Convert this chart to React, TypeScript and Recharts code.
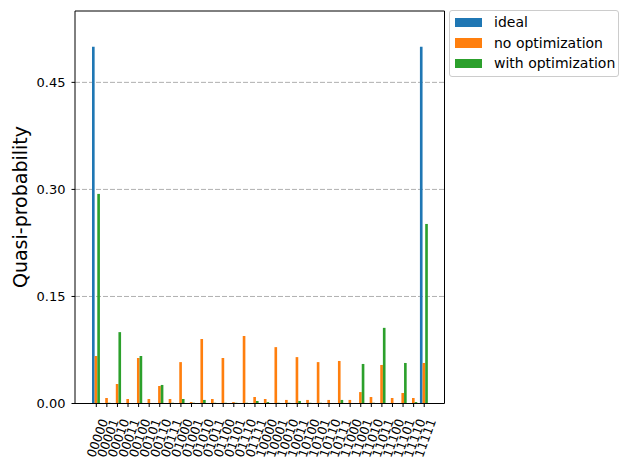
import React from "react";
import {
  BarChart,
  Bar,
  XAxis,
  YAxis,
  CartesianGrid,
  Legend,
  Label,
} from "recharts";

const labels = [
  "00000", "00001", "00010", "00011", "00100", "00101", "00110", "00111",
  "01000", "01001", "01010", "01011", "01100", "01101", "01110", "01111",
  "10000", "10001", "10010", "10011", "10100", "10101", "10110", "10111",
  "11000", "11001", "11010", "11011", "11100", "11101", "11110", "11111",
];

const ideal = [
  0.5, 0, 0, 0, 0, 0, 0, 0, 0, 0, 0, 0, 0, 0, 0, 0,
  0, 0, 0, 0, 0, 0, 0, 0, 0, 0, 0, 0, 0, 0, 0, 0.5,
];

const noOptimization = [
  0.0666, 0.0077, 0.0273, 0.0063, 0.0638, 0.0063, 0.0245, 0.0063,
  0.058, 0.002, 0.0904, 0.0063, 0.0638, 0.002, 0.0946, 0.0091,
  0.0063, 0.079, 0.005, 0.065, 0.005, 0.058, 0.005, 0.0596,
  0.005, 0.016, 0.0091, 0.054, 0.0077, 0.0147, 0.0077, 0.0568,
];

const withOptimization = [
  0.2937, 0.001, 0.1, 0, 0.0666, 0, 0.026, 0.001,
  0.0063, 0.001, 0.005, 0.001, 0.001, 0.001, 0.001, 0.0035,
  0.002, 0.001, 0.001, 0.0035, 0.001, 0.001, 0, 0.005,
  0, 0.0554, 0.001, 0.106, 0, 0.0568, 0.002, 0.2516,
];

const yTicks = [0, 0.15, 0.3, 0.45];

const series = [
  { key: "ideal", name: "ideal", color: "#1f77b4" },
  { key: "noOpt", name: "no optimization", color: "#ff7f0e" },
  { key: "withOpt", name: "with optimization", color: "#2ca02c" },
];

const data = labels.map((label, i) => ({
  label,
  ideal: ideal[i],
  noOpt: noOptimization[i],
  withOpt: withOptimization[i],
}));

const FONT = "'DejaVu Sans', sans-serif";

const XTick = (props: any) => {
  const { x, y, payload } = props;
  const cx = x + 1;
  const cy = y + 29;
  return (
    <text
      x={cx}
      y={cy}
      transform={`rotate(-70 ${cx} ${cy})`}
      textAnchor="middle"
      dominantBaseline="central"
      fontFamily={FONT}
      fontSize={12.5}
      fill="#000"
    >
      {payload.value}
    </text>
  );
};

const LegendBox = () => (
  <div
    style={{
      position: "relative",
      width: 170,
      height: 67,
      boxSizing: "border-box",
      border: "1px solid #cccccc",
      borderRadius: 3,
      background: "rgba(255,255,255,0.8)",
      fontFamily: FONT,
      fontSize: 14,
      color: "#000",
    }}
  >
    {series.map((s, i) => (
      <div
        key={s.key}
        style={{ position: "absolute", left: 0, top: 1 + i * 20.7, height: 20, width: 168 }}
      >
        <div
          style={{
            position: "absolute",
            left: 5,
            top: 5.5,
            width: 27,
            height: 9.5,
            background: s.color,
          }}
        />
        <div style={{ position: "absolute", left: 44, top: 0, lineHeight: "20px", whiteSpace: "nowrap" }}>
          {s.name}
        </div>
      </div>
    ))}
  </div>
);

const App: React.FC = () => {
  return (
    <div style={{ position: "absolute", left: 0, top: 0, width: 628, height: 470, background: "#fff" }}>
      <BarChart
        width={628}
        height={470}
        data={data}
        margin={{ top: 10, right: 182.5, bottom: 6.5, left: 15 }}
        barCategoryGap="12.5%"
        barGap={0}
        barSize={2.64}
      >
        <CartesianGrid
          vertical={false}
          horizontalValues={[0.15, 0.3, 0.45]}
          stroke="#b0b0b0"
          strokeDasharray="5 2"
        />
        <XAxis
          dataKey="label"
          interval={0}
          padding={{ left: 16, right: 15 }}
          height={60}
          tickSize={3.5}
          tickLine={{ stroke: "#000" }}
          axisLine={{ stroke: "#000" }}
          tick={<XTick />}
        />
        <XAxis
          xAxisId="top"
          orientation="top"
          dataKey="label"
          padding={{ left: 16, right: 15 }}
          height={1}
          tick={false}
          tickLine={false}
          axisLine={{ stroke: "#000" }}
        />
        <YAxis
          domain={[0, 0.55]}
          ticks={yTicks}
          width={60}
          tickSize={3.5}
          tickMargin={6}
          tickLine={{ stroke: "#000" }}
          axisLine={{ stroke: "#000" }}
          tickFormatter={(v: number) => v.toFixed(2)}
          tick={{ fontFamily: FONT, fontSize: 13, fill: "#000" }}
        >
          <Label
            content={() => (
              <text
                x={20}
                y={207}
                transform="rotate(-90 20 207)"
                textAnchor="middle"
                dominantBaseline="central"
                fontFamily={FONT}
                fontSize={19}
                fill="#000"
              >
                Quasi-probability
              </text>
            )}
          />
        </YAxis>
        <YAxis
          yAxisId="right"
          orientation="right"
          domain={[0, 0.55]}
          width={1}
          tick={false}
          tickLine={false}
          axisLine={{ stroke: "#000" }}
        />
        <Legend
          layout="vertical"
          align="center"
          verticalAlign="middle"
          wrapperStyle={{ left: 449, top: 10, width: 170 }}
          content={() => <LegendBox />}
        />
        {series.map((s) => (
          <Bar
            key={s.key}
            dataKey={s.key}
            name={s.name}
            fill={s.color}
            isAnimationActive={false}
          />
        ))}
      </BarChart>
    </div>
  );
};

export default App;
